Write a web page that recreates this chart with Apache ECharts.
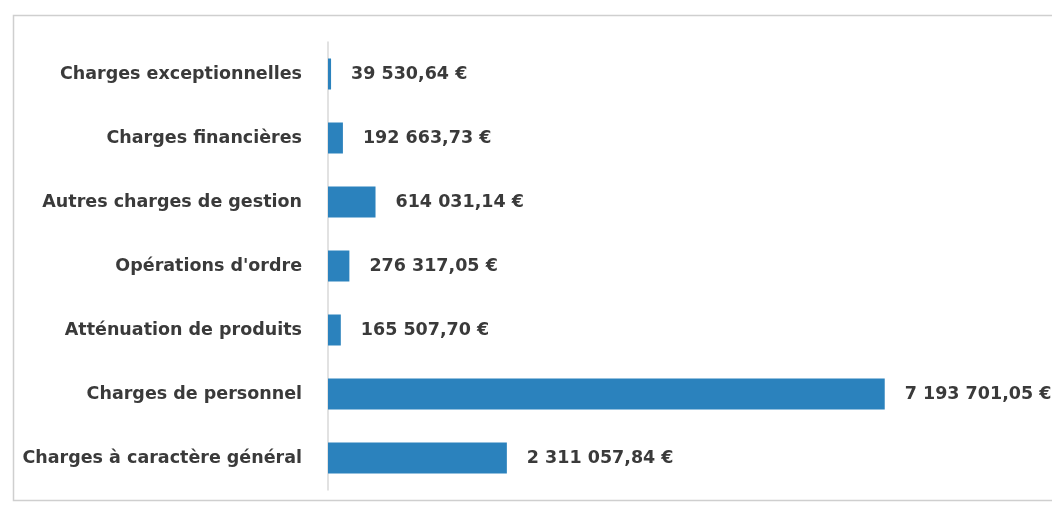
<!DOCTYPE html>
<html>
<head>
<meta charset="utf-8">
<script src="https://cdn.jsdelivr.net/npm/echarts@6/dist/echarts.min.js"></script>
<style>
  html, body { margin: 0; padding: 0; background: #fff; }
  #chart { width: 1052px; height: 510px; }
</style>
</head>
<body>
<div id="chart"></div>
<script>
// categories from bottom to top
const categories = [
  'Charges à caractère général',
  'Charges de personnel',
  'Atténuation de produits',
  "Opérations d'ordre",
  'Autres charges de gestion',
  'Charges financières',
  'Charges exceptionnelles'
]
const values = [2311057.84, 7193701.05, 165507.70, 276317.05, 614031.14, 192663.73, 39530.64]

function formatEuro(v) {
  const parts = v.toFixed(2).split('.')
  const int = parts[0].replace(/\B(?=(\d{3})+(?!\d))/g, ' ')
  return int + ',' + parts[1] + ' €'
}

const chart = echarts.init(document.getElementById('chart'))

chart.setOption({
  animation: false,
  graphic: [
    {
      type: 'rect',
      shape: { x: 13.5, y: 15.5, width: 1100, height: 485 },
      style: { fill: 'none', stroke: '#cfcfcf', lineWidth: 1.5 }
    }
  ],
  grid: {
    left: 328,
    top: 42,
    width: 712,
    height: 448
  },
  xAxis: {
    type: 'value',
    min: 0,
    max: 9200000,
    show: false
  },
  yAxis: {
    type: 'category',
    data: categories,
    axisLine: { show: true, lineStyle: { color: '#d9d9d9', width: 1.5 } },
    axisTick: { show: false },
    axisLabel: {
      margin: 26,
      color: '#3a3a3a',
      fontFamily: 'DejaVu Sans',
      fontWeight: 'bold',
      fontSize: 17.5
    }
  },
  series: [
    {
      type: 'bar',
      data: values,
      barWidth: 31,
      itemStyle: { color: '#2b82bd' },
      label: {
        show: true,
        position: 'right',
        distance: 20,
        color: '#3a3a3a',
        fontFamily: 'DejaVu Sans',
        fontWeight: 'bold',
        fontSize: 17.5,
        formatter: (p) => formatEuro(p.value)
      }
    }
  ]
})
</script>
</body>
</html>
